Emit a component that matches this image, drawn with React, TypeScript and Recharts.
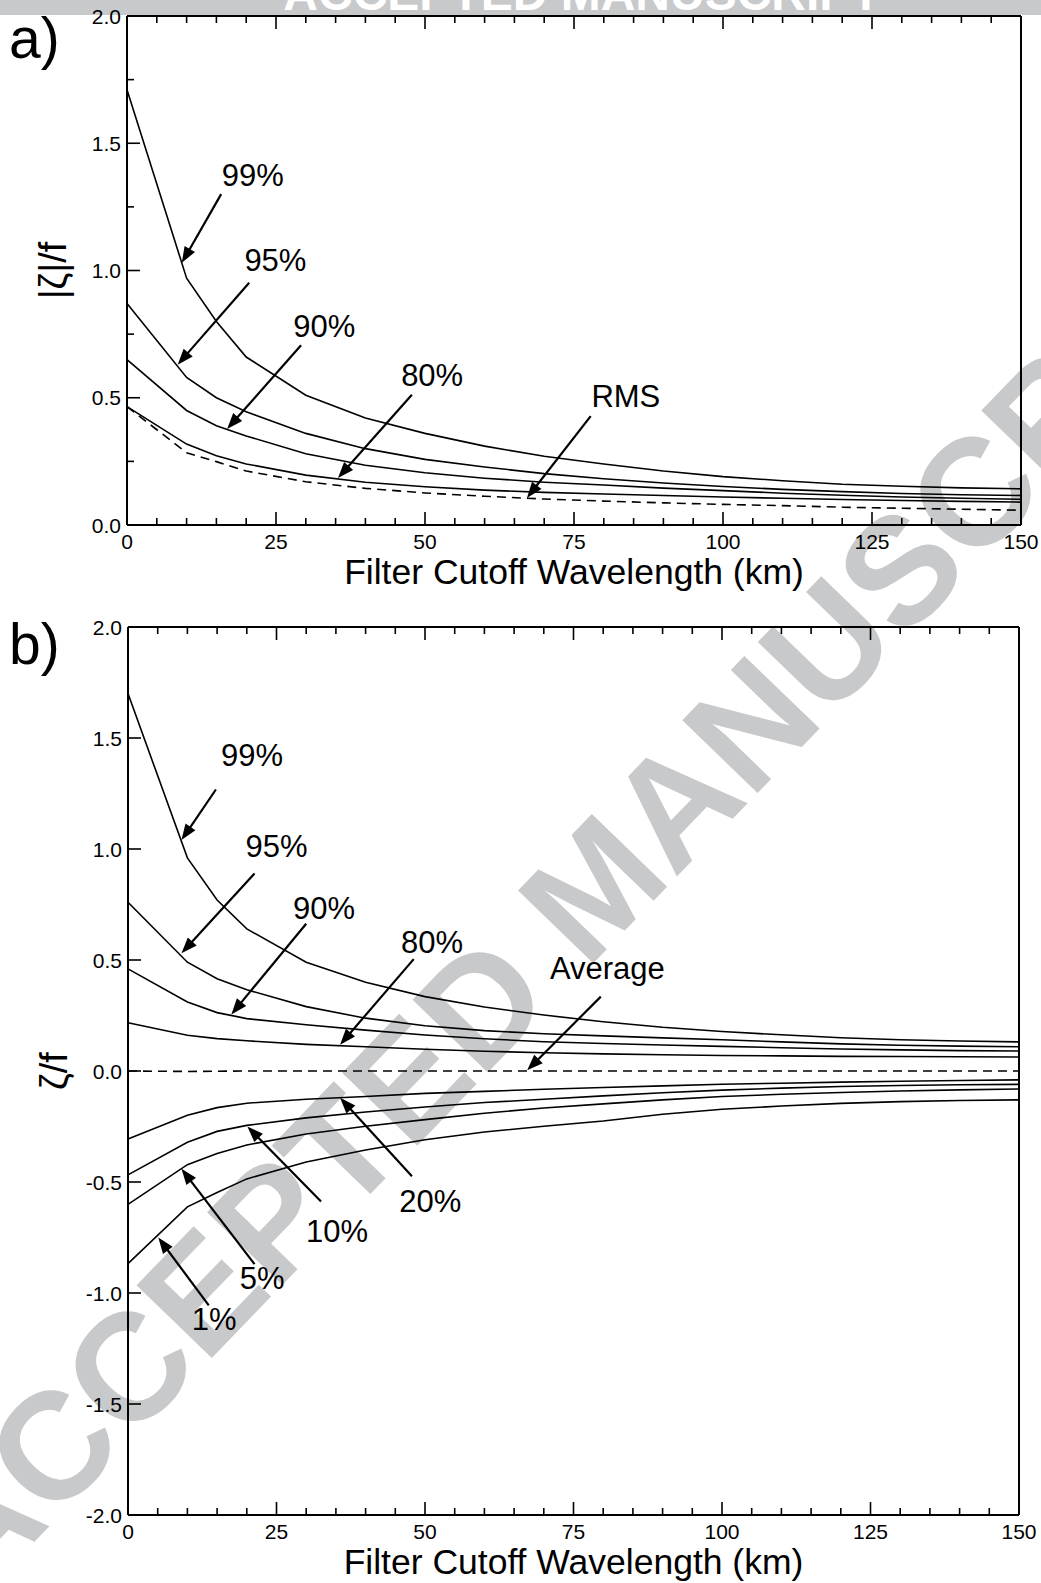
import {
  Label,
  Line,
  LineChart,
  ReferenceDot,
  ReferenceLine,
  XAxis,
  YAxis,
} from "recharts";

const FONT = "'Liberation Sans', Arial, Helvetica, sans-serif";
const INK = "#000";
const WATERMARK = "#c8c9cb";

// filter cutoff wavelengths (km) where the statistics were evaluated
const cutoffKm = [0, 10, 15, 20, 30, 40, 50, 60, 70, 80, 90, 100, 110, 120, 130, 140, 150];

// panel a: percentiles of |ζ|/f and the RMS
const absP99 = [1.71, 0.97, 0.8, 0.66, 0.51, 0.42, 0.36, 0.31, 0.27, 0.24, 0.212, 0.19, 0.174, 0.16, 0.152, 0.146, 0.142];
const absP95 = [0.87, 0.58, 0.5, 0.445, 0.36, 0.3, 0.258, 0.228, 0.202, 0.182, 0.165, 0.151, 0.14, 0.131, 0.124, 0.119, 0.116];
const absP90 = [0.65, 0.45, 0.39, 0.35, 0.28, 0.235, 0.205, 0.184, 0.168, 0.157, 0.145, 0.135, 0.125, 0.117, 0.11, 0.105, 0.101];
const absP80 = [0.465, 0.318, 0.272, 0.24, 0.196, 0.168, 0.15, 0.137, 0.128, 0.122, 0.116, 0.11, 0.105, 0.1, 0.096, 0.093, 0.09];
const absRms = [0.465, 0.284, 0.249, 0.212, 0.17, 0.144, 0.126, 0.113, 0.102, 0.094, 0.087, 0.081, 0.076, 0.07, 0.066, 0.062, 0.058];

// panel b: percentiles of ζ/f and the average
const sgnP99 = [1.7, 0.96, 0.77, 0.64, 0.49, 0.4, 0.335, 0.288, 0.252, 0.222, 0.197, 0.178, 0.163, 0.15, 0.141, 0.135, 0.131];
const sgnP95 = [0.76, 0.49, 0.416, 0.366, 0.29, 0.238, 0.204, 0.182, 0.168, 0.158, 0.149, 0.141, 0.131, 0.122, 0.116, 0.112, 0.109];
const sgnP90 = [0.46, 0.311, 0.263, 0.236, 0.208, 0.184, 0.162, 0.145, 0.132, 0.124, 0.117, 0.111, 0.105, 0.099, 0.095, 0.092, 0.09];
const sgnP80 = [0.217, 0.161, 0.146, 0.136, 0.12, 0.109, 0.098, 0.089, 0.082, 0.077, 0.073, 0.07, 0.068, 0.066, 0.065, 0.064, 0.063];
const sgnAvg = [0, -0.002, -0.001, 0, 0, 0, 0, 0, 0, 0, 0, 0, 0, 0, 0, 0, 0];
const sgnP20 = [-0.306, -0.199, -0.165, -0.145, -0.127, -0.115, -0.101, -0.092, -0.082, -0.074, -0.067, -0.06, -0.055, -0.05, -0.046, -0.043, -0.04];
const sgnP10 = [-0.468, -0.321, -0.272, -0.245, -0.211, -0.185, -0.162, -0.142, -0.127, -0.112, -0.098, -0.086, -0.077, -0.07, -0.065, -0.062, -0.06];
const sgnP5 = [-0.601, -0.422, -0.372, -0.333, -0.284, -0.249, -0.219, -0.19, -0.167, -0.148, -0.13, -0.115, -0.105, -0.097, -0.09, -0.085, -0.081];
const sgnP1 = [-0.868, -0.612, -0.547, -0.486, -0.41, -0.356, -0.31, -0.275, -0.249, -0.225, -0.195, -0.172, -0.158, -0.146, -0.138, -0.133, -0.13];

const xTicks = [0, 5, 10, 15, 20, 25, 30, 35, 40, 45, 50, 55, 60, 65, 70, 75, 80, 85, 90, 95, 100, 105, 110, 115, 120, 125, 130, 135, 140, 145, 150];
const yTicksA = [0, 0.25, 0.5, 0.75, 1, 1.25, 1.5, 1.75, 2];
const yTicksB = [-2, -1.5, -1, -0.5, 0, 0.5, 1, 1.5, 2];

const rowsA = cutoffKm.map((km, i) => ({
  km,
  p99: absP99[i],
  p95: absP95[i],
  p90: absP90[i],
  p80: absP80[i],
  rms: absRms[i],
}));

const rowsB = cutoffKm.map((km, i) => ({
  km,
  p99: sgnP99[i],
  p95: sgnP95[i],
  p90: sgnP90[i],
  p80: sgnP80[i],
  avg: sgnAvg[i],
  p20: sgnP20[i],
  p10: sgnP10[i],
  p5: sgnP5[i],
  p1: sgnP1[i],
}));

type Series = { key: string; dashed?: boolean };
const seriesA: Series[] = [
  { key: "p99" },
  { key: "p95" },
  { key: "p90" },
  { key: "p80" },
  { key: "rms", dashed: true },
];
const seriesB: Series[] = [
  { key: "p99" },
  { key: "p95" },
  { key: "p90" },
  { key: "p80" },
  { key: "avg", dashed: true },
  { key: "p20" },
  { key: "p10" },
  { key: "p5" },
  { key: "p1" },
];

// call-outs: text position and arrow from tail to head, in data units
type Callout = { text: string; tx: number; ty: number; x1: number; y1: number; x2: number; y2: number };
const calloutsA: Callout[] = [
  { text: "99%", tx: 21.1, ty: 1.375, x1: 15.8, y1: 1.3, x2: 9.2, y2: 1.03 },
  { text: "95%", tx: 24.9, ty: 1.039, x1: 20.5, y1: 0.952, x2: 8.5, y2: 0.63 },
  { text: "90%", tx: 33.1, ty: 0.78, x1: 29.2, y1: 0.706, x2: 16.8, y2: 0.377 },
  { text: "80%", tx: 51.2, ty: 0.587, x1: 47.8, y1: 0.512, x2: 35.4, y2: 0.185 },
  { text: "RMS", tx: 83.7, ty: 0.504, x1: 77.8, y1: 0.428, x2: 67.1, y2: 0.106 },
];
const calloutsB: Callout[] = [
  { text: "99%", tx: 20.9, ty: 1.422, x1: 14.8, y1: 1.268, x2: 9.0, y2: 1.04 },
  { text: "95%", tx: 25.0, ty: 1.013, x1: 21.3, y1: 0.89, x2: 9.0, y2: 0.53 },
  { text: "90%", tx: 33.0, ty: 0.731, x1: 30.0, y1: 0.663, x2: 17.4, y2: 0.255 },
  { text: "80%", tx: 51.2, ty: 0.577, x1: 48.1, y1: 0.504, x2: 35.7, y2: 0.118 },
  { text: "Average", tx: 80.7, ty: 0.463, x1: 79.6, y1: 0.335, x2: 67.2, y2: 0.003 },
  { text: "20%", tx: 50.9, ty: -0.588, x1: 47.8, y1: -0.474, x2: 35.7, y2: -0.12 },
  { text: "10%", tx: 35.2, ty: -0.724, x1: 32.5, y1: -0.588, x2: 20.1, y2: -0.25 },
  { text: "5%", tx: 22.6, ty: -0.933, x1: 21.3, y1: -0.87, x2: 9.0, y2: -0.44 },
  { text: "1%", tx: 14.5, ty: -1.12, x1: 13.6, y1: -1.056, x2: 5.1, y2: -0.75 },
];

const isMultiple = (v: number, step: number) => Math.abs(v / step - Math.round(v / step)) < 1e-6;

const TICK_FONT = 21;

// ticks point into the plot; only the bottom and left axes carry numbers
function BottomTick({ x, y, payload }: any) {
  const major = isMultiple(payload.value, 25);
  return (
    <g>
      <line x1={x} x2={x} y1={y} y2={y - (major ? 13 : 7)} stroke={INK} strokeWidth={1.6} />
      {major && (
        <text x={x} y={y + 24} textAnchor="middle" fontSize={TICK_FONT} fontFamily={FONT} fill={INK}>
          {payload.value}
        </text>
      )}
    </g>
  );
}

function TopTick({ x, y, payload }: any) {
  const major = isMultiple(payload.value, 25);
  return <line x1={x} x2={x} y1={y} y2={y + (major ? 13 : 7)} stroke={INK} strokeWidth={1.6} />;
}

function LeftTick({ x, y, payload }: any) {
  const major = isMultiple(payload.value, 0.5);
  return (
    <g>
      <line x1={x} x2={x + (major ? 13 : 7)} y1={y} y2={y} stroke={INK} strokeWidth={1.6} />
      {major && (
        <text x={x - 6} y={y} textAnchor="end" dominantBaseline="central" fontSize={TICK_FONT} fontFamily={FONT} fill={INK}>
          {payload.value.toFixed(1)}
        </text>
      )}
    </g>
  );
}

function RightTick({ x, y, payload }: any) {
  const major = isMultiple(payload.value, 0.5);
  return <line x1={x} x2={x - (major ? 13 : 7)} y1={y} y2={y} stroke={INK} strokeWidth={1.6} />;
}

function ArrowShape({ x1, y1, x2, y2 }: any) {
  const d = Math.hypot(x2 - x1, y2 - y1) || 1;
  const ux = (x2 - x1) / d;
  const uy = (y2 - y1) / d;
  const bx = x2 - ux * 16;
  const by = y2 - uy * 16;
  const pts = `${x2},${y2} ${bx - uy * 6},${by + ux * 6} ${bx + uy * 6},${by - ux * 6}`;
  return (
    <g>
      <line x1={x1} y1={y1} x2={bx + ux * 2} y2={by + uy * 2} stroke={INK} strokeWidth={2.2} />
      <polygon points={pts} fill={INK} />
    </g>
  );
}

const calloutText = (text: string) => ({ cx, cy }: any) => (
  <text x={cx} y={cy} textAnchor="middle" dominantBaseline="central" fontSize={31} fontFamily={FONT} fill={INK}>
    {text}
  </text>
);

const yTitle = (text: string) => ({ viewBox }: any) => {
  const cx = viewBox.x + viewBox.width - 61;
  const cy = viewBox.y + viewBox.height / 2;
  return (
    <text x={cx} y={cy} transform={`rotate(-90 ${cx} ${cy})`} textAnchor="middle" fontSize={38} fontFamily={FONT} fill={INK}>
      {text}
    </text>
  );
};

const axisLine = { stroke: INK, strokeWidth: 2 };

// space reserved for each axis; the plot box edges are fixed by margin + these
const BOTTOM_H = 40;
const TOP_H = 6;
const LEFT_W = 60;
const RIGHT_W = 6;

interface PanelProps {
  rows: Record<string, number>[];
  series: Series[];
  callouts: Callout[];
  yTicks: number[];
  yLabel: string;
  height: number;
  plot: { top: number; right: number; bottom: number; left: number };
}

function Panel({ rows, series, callouts, yTicks, yLabel, height, plot }: PanelProps) {
  const yDomain = [yTicks[0], yTicks[yTicks.length - 1]];
  const margin = {
    top: plot.top - TOP_H,
    right: plot.right - RIGHT_W,
    bottom: plot.bottom - BOTTOM_H,
    left: plot.left - LEFT_W,
  };
  return (
    <LineChart width={1041} height={height} data={rows} margin={margin}>
      <XAxis
        dataKey="km"
        type="number"
        domain={[0, 150]}
        ticks={xTicks}
        interval={0}
        height={BOTTOM_H}
        tickSize={0}
        tickMargin={0}
        tickLine={false}
        axisLine={axisLine}
        tick={<BottomTick />}
      >
        <Label
          value="Filter Cutoff Wavelength (km)"
          position="bottom"
          offset={34 - BOTTOM_H}
          fontSize={35.5}
          fontFamily={FONT}
          fill={INK}
        />
      </XAxis>
      <XAxis
        xAxisId="top"
        orientation="top"
        dataKey="km"
        type="number"
        domain={[0, 150]}
        ticks={xTicks}
        interval={0}
        height={TOP_H}
        tickSize={0}
        tickMargin={0}
        tickLine={false}
        axisLine={axisLine}
        tick={<TopTick />}
      />
      <YAxis
        type="number"
        domain={yDomain}
        ticks={yTicks}
        interval={0}
        width={LEFT_W}
        tickSize={0}
        tickMargin={0}
        tickLine={false}
        axisLine={axisLine}
        tick={<LeftTick />}
      >
        <Label content={yTitle(yLabel)} />
      </YAxis>
      <YAxis
        yAxisId="right"
        orientation="right"
        type="number"
        domain={yDomain}
        ticks={yTicks}
        interval={0}
        width={RIGHT_W}
        tickSize={0}
        tickMargin={0}
        tickLine={false}
        axisLine={axisLine}
        tick={<RightTick />}
      />
      {series.map((s) => (
        <Line
          key={s.key}
          type="linear"
          dataKey={s.key}
          stroke={INK}
          strokeWidth={1.6}
          strokeDasharray={s.dashed ? "9 6" : undefined}
          dot={false}
          activeDot={false}
          isAnimationActive={false}
        />
      ))}
      {callouts.map((c) => (
        <ReferenceLine
          key={`arrow-${c.text}`}
          segment={[
            { x: c.x1, y: c.y1 },
            { x: c.x2, y: c.y2 },
          ]}
          ifOverflow="visible"
          shape={ArrowShape}
        />
      ))}
      {callouts.map((c) => (
        <ReferenceDot
          key={`text-${c.text}`}
          x={c.tx}
          y={c.ty}
          r={0}
          ifOverflow="visible"
          shape={calloutText(c.text)}
        />
      ))}
    </LineChart>
  );
}

export default function App() {
  return (
    <div style={{ position: "relative", width: 1041, height: 1583, background: "#fff", fontFamily: FONT, overflow: "hidden" }}>
      <style>{"body{margin:0}"}</style>
      <svg width={1041} height={1583} style={{ position: "absolute", left: 0, top: 0 }}>
        <rect x={0} y={0} width={1041} height={15} fill={WATERMARK} />
        <text x={582} y={10} textAnchor="middle" fontSize={48} fontWeight="bold" fontFamily={FONT} fill="#fff">
          ACCEPTED MANUSCRIPT
        </text>
        <text
          x={595}
          y={885}
          transform="rotate(-46 595 885)"
          textAnchor="middle"
          dominantBaseline="central"
          fontSize={152}
          fontWeight="bold"
          fontFamily={FONT}
          fill={WATERMARK}
        >
          ACCEPTED MANUSCRIPT
        </text>
        <text x={9} y={58} fontSize={57} fontFamily={FONT} fill={INK}>
          a)
        </text>
        <text x={9} y={664} fontSize={57} fontFamily={FONT} fill={INK}>
          b)
        </text>
      </svg>
      <div style={{ position: "absolute", left: 0, top: 0 }}>
        <Panel
          rows={rowsA}
          series={seriesA}
          callouts={calloutsA}
          yTicks={yTicksA}
          yLabel="|ζ|/f"
          height={600}
          plot={{ top: 16, right: 20, bottom: 75, left: 127 }}
        />
      </div>
      <div style={{ position: "absolute", left: 0, top: 600 }}>
        <Panel
          rows={rowsB}
          series={seriesB}
          callouts={calloutsB}
          yTicks={yTicksB}
          yLabel="ζ/f"
          height={983}
          plot={{ top: 27, right: 22, bottom: 68, left: 128 }}
        />
      </div>
    </div>
  );
}
